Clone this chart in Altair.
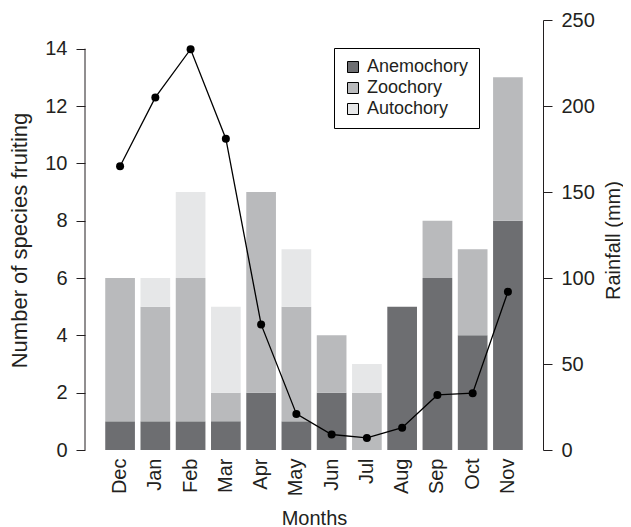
import altair as alt
import pandas as pd

months = ["Dec", "Jan", "Feb", "Mar", "Apr", "May", "Jun", "Jul", "Aug", "Sep", "Oct", "Nov"]
anemochory = [1, 1, 1, 1, 2, 1, 2, 0, 5, 6, 4, 8]
zoochory = [5, 4, 5, 1, 7, 4, 2, 2, 0, 2, 3, 5]
autochory = [0, 1, 3, 3, 0, 2, 0, 1, 0, 0, 0, 0]
rainfall = [165, 205, 233, 181, 73, 21, 9, 7, 13, 32, 33, 92]
categories = ["Anemochory", "Zoochory", "Autochory"]
colors = ["#6d6e71", "#b9babc", "#e6e7e8"]
left_ticks = [0, 2, 4, 6, 8, 10, 12, 14]
right_ticks = [0, 50, 100, 150, 200, 250]

rows = []
for i, m in enumerate(months):
    for k, (c, vals) in enumerate(zip(categories, [anemochory, zoochory, autochory])):
        rows.append({"month": m, "category": c, "ord": k, "count": vals[i]})
bars_df = pd.DataFrame(rows)
rain_df = pd.DataFrame({"month": months, "rain": rainfall})
axis_df = pd.DataFrame({"y0": [left_ticks[0]], "y1": [left_ticks[-1]]})

FONT = "Liberation Sans"
TXT = "#231f20"

xscale = alt.Scale(domain=months, paddingInner=0.158, paddingOuter=0.574)
xaxis = alt.Axis(title="Months", labelAngle=270, labelAlign="right", labelBaseline="middle",
                 domain=False, ticks=False, tickSize=0, labelPadding=8,
                 labelFontSize=20, titleFontSize=20, titleY=74, titleBaseline="alphabetic")
xenc = alt.X("month:N", scale=xscale, sort=months, axis=xaxis)

lscale = alt.Scale(domain=[0, 15], nice=False, zero=True)
laxis = alt.Axis(values=left_ticks, domain=False, tickSize=9, labelPadding=9,
                 title="Number of species fruiting", titleX=-66, titleY=220, titleAngle=270,
                 titleAlign="center", titleBaseline="middle", grid=False,
                 labelFontSize=20, titleFontSize=22)

bars = alt.Chart(bars_df).mark_bar(opacity=1).encode(
    x=xenc,
    y=alt.Y("count:Q", stack="zero", scale=lscale, axis=laxis),
    color=alt.Color("category:N", scale=alt.Scale(domain=categories, range=colors),
                    legend=alt.Legend(title=None, orient="none", legendX=249, legendY=28,
                                      symbolType="square", symbolSize=121,
                                      symbolStrokeColor="black", symbolStrokeWidth=1,
                                      labelFontSize=18, labelFont=FONT, labelColor=TXT,
                                      strokeColor="black", padding=10, labelOffset=5,
                                      rowPadding=3, fillColor="white")),
    order=alt.Order("ord:Q", sort="ascending"),
)

lrule = alt.Chart(axis_df).mark_rule(color=TXT, strokeWidth=1).encode(
    x=alt.value(0),
    y=alt.Y("y0:Q", scale=lscale, axis=laxis),
    y2="y1:Q",
)

rscale = alt.Scale(domain=[0, 250], nice=False)
raxis = alt.Axis(orient="right", values=right_ticks, tickSize=9, labelPadding=9,
                 title="Rainfall (mm)", titleX=70, titleY=220, titleAngle=270,
                 titleAlign="center", titleBaseline="middle", grid=False,
                 labelFontSize=20, titleFontSize=20)

line = alt.Chart(rain_df).mark_line(color="black", strokeWidth=1.3).encode(
    x=xenc,
    y=alt.Y("rain:Q", scale=rscale, axis=raxis),
)
pts = alt.Chart(rain_df).mark_circle(color="black", size=64, opacity=1).encode(
    x=xenc,
    y=alt.Y("rain:Q", scale=rscale, axis=raxis),
)

left = alt.layer(bars, lrule)
right = alt.layer(line, pts)

chart = alt.layer(left, right).resolve_scale(y="independent").properties(
    width=458, height=430,
    autosize=alt.AutoSizeParams(type="none"),
    padding={"left": 77, "top": 12, "right": 80, "bottom": 77},
).configure_view(stroke=None).configure_axis(
    labelFont=FONT, titleFont=FONT, labelColor=TXT, titleColor=TXT,
    tickColor=TXT, domainColor=TXT, titleFontWeight="normal",
)

chart.save("out.html", embed_options={"renderer": "svg", "actions": False})
